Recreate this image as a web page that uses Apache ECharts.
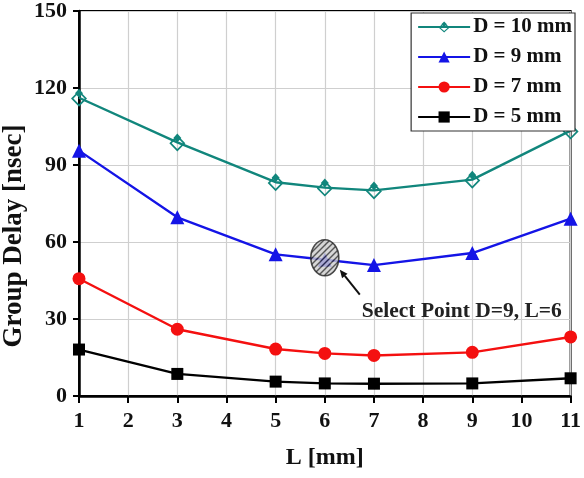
<!DOCTYPE html>
<html>
<head>
<meta charset="utf-8">
<script src="https://cdn.jsdelivr.net/npm/echarts@6/dist/echarts.min.js"></script>
<style>
html,body{margin:0;padding:0;background:#fff;}
#chart{width:584px;height:478px;}
</style>
</head>
<body>
<div id="chart"></div>
<script>
// ---- data ----
var lValues = [1, 3, 5, 6, 7, 9, 11];
var d10 = [116.2, 98.8, 83.3, 81.2, 80.1, 84.3, 103.4];
var d9  = [95.6, 69.6, 55.2, 53.1, 51.0, 55.7, 69.1];
var d7  = [45.7, 26.0, 18.3, 16.6, 15.8, 17.0, 23.0];
var d5  = [18.1, 8.6, 5.6, 4.9, 4.8, 4.9, 6.9];
var seriesNames = ['D = 10 mm', 'D = 9 mm', 'D = 7 mm', 'D = 5 mm'];
var xTicks = [1, 2, 3, 4, 5, 6, 7, 8, 9, 10, 11];
var yTicks = [0, 30, 60, 90, 120, 150];
var selectL = 6;
var selectD9 = 53.1;
var annotationText = 'Select Point D=9, L=6';

function pairs(ys){ return lValues.map(function(x,i){ return [x, ys[i]]; }); }

var FONT = '"Liberation Serif", "Times New Roman", serif';
var teal = '#11867c', blue = '#1414e6', red = '#f41010', black = '#000000';

// teal composite marker: hollow diamond + small filled diamond on top
var tealSymbol = 'path://M0,-10L10,0L0,10L-10,0Z M0,-7L-7,0L0,7L7,0Z M0,-12L5,-6.5L0,-1L-5,-6.5Z';

var chart = echarts.init(document.getElementById('chart'), null, {renderer:'canvas'});

// hatch pattern
var pc = document.createElement('canvas');
pc.width = 6; pc.height = 6;
var pctx = pc.getContext('2d');
pctx.fillStyle = '#cdcdcd'; pctx.fillRect(0,0,6,6);
pctx.strokeStyle = '#2e2e2e'; pctx.lineWidth = 1.4;
pctx.beginPath(); pctx.moveTo(-1,7); pctx.lineTo(7,-1); pctx.stroke();
pctx.beginPath(); pctx.moveTo(-1,1); pctx.lineTo(1,-1); pctx.stroke();
pctx.beginPath(); pctx.moveTo(5,7); pctx.lineTo(7,5); pctx.stroke();

function mkSeries(name, ys, color, symbol, size){
  return {
    name: name, type: 'line', data: pairs(ys),
    symbol: symbol, symbolSize: size, showSymbol: true,
    lineStyle: {color: color, width: 2.4},
    itemStyle: {color: color, borderColor: color, borderWidth: 0},
    emphasis: {disabled: true}, animation: false, z: 3
  };
}

var option = {
  animation: false,
  backgroundColor: '#fff',
  grid: {left: 79, right: 5, top: 10, bottom: 82, show: true, borderColor: '#000', borderWidth: 2, backgroundColor: 'transparent'},
  legend: {
    orient: 'vertical', right: 9, top: 13,
    backgroundColor: '#fff', borderColor: '#333', borderWidth: 1.2,
    padding: [3, 3, 3, 6],
    itemWidth: 52, itemHeight: 14, itemGap: 8,
    textStyle: {fontFamily: FONT, fontWeight: 'bold', fontSize: 21, color: '#111', padding: [0,0,0,-2], lineHeight: 22},
    data: seriesNames,
    selectedMode: false
  },
  xAxis: {
    type: 'value', min: 1, max: 11, interval: 1,
    axisLine: {show: true, onZero: false, lineStyle: {color: '#000', width: 2.5}},
    axisTick: {show: true, inside: false, length: 7, lineStyle: {color: '#000', width: 2}},
    axisLabel: {fontFamily: FONT, fontWeight: 'bold', fontSize: 22, color: '#111', margin: 14,
      formatter: function(v){ return xTicks.indexOf(v) >= 0 ? String(v) : ''; }},
    splitLine: {show: true, lineStyle: {color: '#cfcfcf', width: 1.2}},
    name: 'L [mm]', nameLocation: 'middle', nameGap: 50,
    nameTextStyle: {fontFamily: FONT, fontWeight: 'bold', fontSize: 24, color: '#111'}
  },
  yAxis: {
    type: 'value', min: 0, max: 150, interval: 30,
    axisLine: {show: true, onZero: false, lineStyle: {color: '#000', width: 2.5}},
    axisTick: {show: true, inside: false, length: 6, lineStyle: {color: '#000', width: 2}},
    axisLabel: {fontFamily: FONT, fontWeight: 'bold', fontSize: 22, color: '#111', margin: 12,
      formatter: function(v){ return yTicks.indexOf(v) >= 0 ? String(v) : ''; }},
    splitLine: {show: true, lineStyle: {color: '#cfcfcf', width: 1.2}}
  },
  series: [
    mkSeries(seriesNames[0], d10, teal, tealSymbol, [16, 18]),
    mkSeries(seriesNames[1], d9, blue, 'triangle', 14),
    mkSeries(seriesNames[2], d7, red, 'circle', 13),
    mkSeries(seriesNames[3], d5, black, 'rect', 12)
  ]
};
chart.setOption(option);

function place(){
  var p = chart.convertToPixel({gridIndex: 0}, [selectL, selectD9]);
  var cx = p[0], cy = p[1] - 2;
  var sx = cx + 35, sy = cy + 37, ex = cx + 15, ey = cy + 12;
  var ang = Math.atan2(ey - sy, ex - sx);
  var ah = 8, aw = 3.5;
  var bx = ex - ah*Math.cos(ang), by = ey - ah*Math.sin(ang);
  var px = -Math.sin(ang), py = Math.cos(ang);
  chart.setOption({
    graphic: [
      {type: 'ellipse', z: 10, shape: {cx: cx, cy: cy, rx: 14, ry: 18},
        style: {fill: {image: pc, repeat: 'repeat'}, stroke: '#222', lineWidth: 1.6, opacity: 0.8}},
      {type: 'line', z: 10, shape: {x1: sx, y1: sy, x2: bx, y2: by}, style: {stroke: '#111', lineWidth: 2}},
      {type: 'polygon', z: 10, shape: {points: [[ex, ey], [bx + px*aw, by + py*aw], [bx - px*aw, by - py*aw]]}, style: {fill: '#111'}},
      {type: 'text', z: 10, x: cx + 37, y: cy + 54,
        style: {text: annotationText, fontFamily: FONT, fontWeight: 'bold', fontSize: 21.5, fill: '#222', textVerticalAlign: 'middle', textAlign: 'left'}},
      {type: 'text', z: 10, x: 14, y: 236, rotation: Math.PI/2,
        style: {text: 'Group Delay [nsec]', fontFamily: FONT, fontWeight: 'bold', fontSize: 27, fill: '#111', textAlign: 'center', textVerticalAlign: 'middle'}}
    ]
  });
}
place();
</script>
</body>
</html>
